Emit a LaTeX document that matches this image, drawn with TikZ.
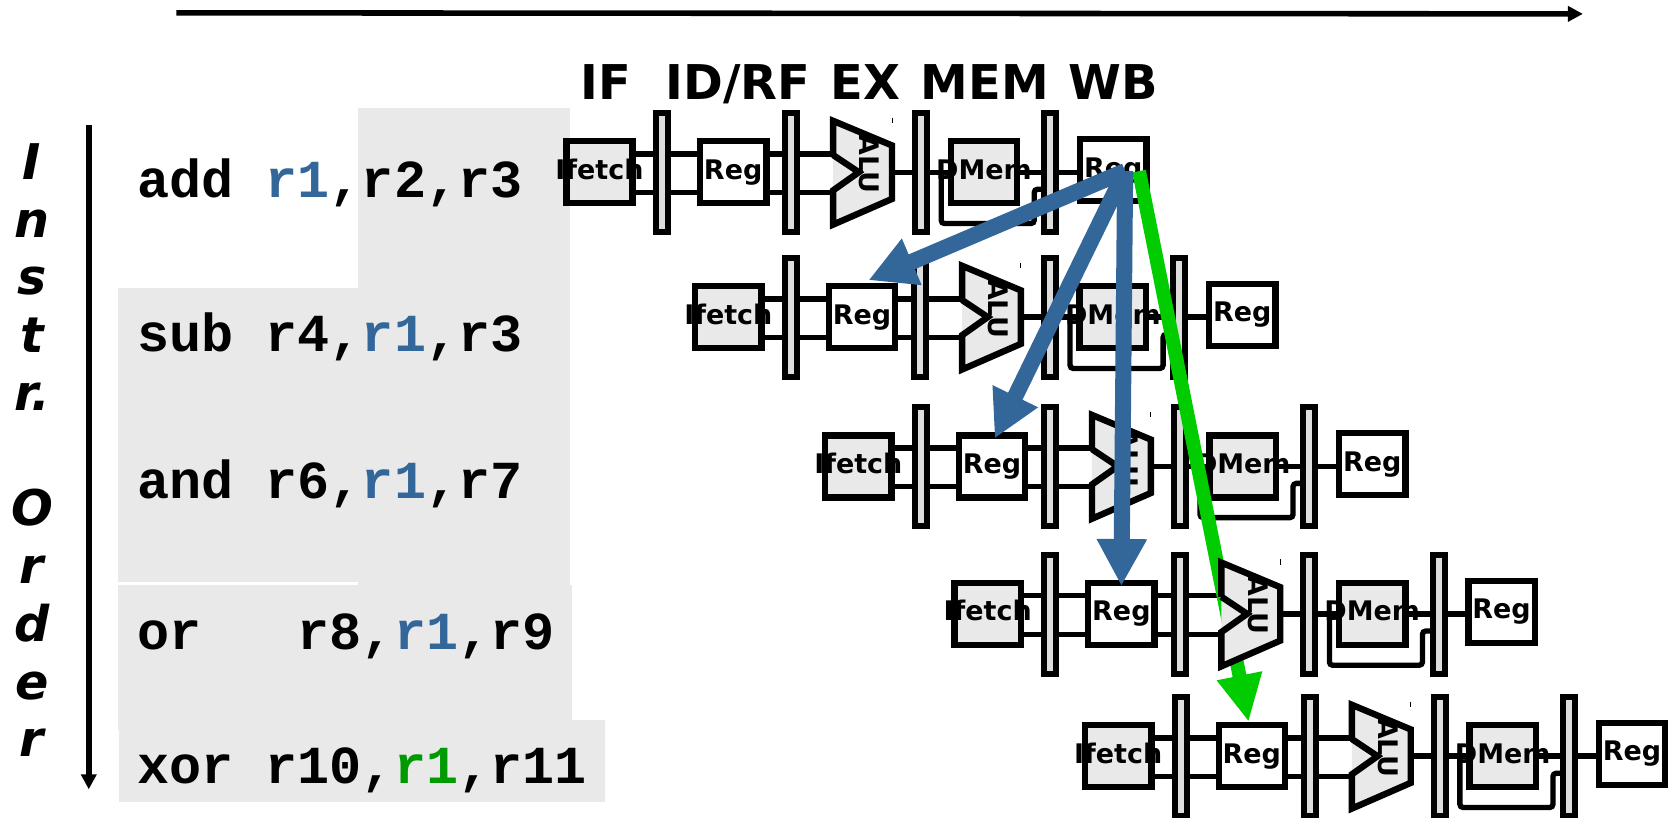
\documentclass[tikz,border=0pt]{standalone}
\usepackage{fontspec}
\usetikzlibrary{arrows.meta,backgrounds}
\newfontfamily\stagefont{DejaVu Sans}
\newfontfamily\codefont{Liberation Mono}
\definecolor{regblue}{HTML}{336699}
\definecolor{fwdgreen}{HTML}{00CC00}
\definecolor{xorgreen}{HTML}{009900}
\definecolor{panelgray}{HTML}{E9E9E9}
\definecolor{latchgray}{HTML}{DDDDDD}
\newcommand{\boxtext}[1]{\makebox[0pt]{#1}}
\newcommand{\regone}[1]{\textcolor{regblue}{#1}}
\newcommand{\pipelinerows}{1/0/0,2/120.5/135.5,3/242/275,4/363/413,5/485/546}
\begin{document}
\begin{tikzpicture}[x=0.5pt,y=-0.5pt,
		unit/.style={draw,line width=3pt,minimum width=31pt,minimum height=29pt,inner sep=0pt,text height=9pt,text depth=2.5pt,font=\stagefont\bfseries\fontsize{12.6}{14}\selectfont},
		graybox/.style={unit,fill=panelgray},
		whitebox/.style={unit,fill=white},
		latch/.style={draw,line width=2.8pt,fill=latchgray,minimum width=5.6pt,minimum height=55.5pt,inner sep=0pt},
		wire/.style={line width=2.5pt},
		alubody/.style={line width=3pt,miter limit=10},
		stage/.style={anchor=base,inner sep=0pt,font=\stagefont\bfseries\fontsize{22.4}{26}\selectfont},
		code/.style={anchor=base west,inner sep=0pt,font=\codefont\bfseries\fontsize{25}{30}\selectfont},
		axis/.style={line width=2.6pt,-{Triangle[length=7pt,width=7pt]}},
		bluearrow/.style={regblue,line width=7.5pt,-{Triangle[length=22pt,width=22pt]}},
		greenarrow/.style={fwdgreen,line width=6.5pt,-{Triangle[length=22pt,width=20pt]}}]
	\useasboundingbox (0,0) rectangle (1568,764);
	\begin{pgfonlayer}{background}
		\fill[panelgray] (335,101) rectangle (533,547);
		\fill[panelgray] (110,269) rectangle (533,544);
		\fill[panelgray] (110,547) rectangle (535,683);
		\fill[panelgray] (111,673) rectangle (566,750);
	\end{pgfonlayer}
	\coordinate (timea) at (165,12);
	\coordinate (timeb) at (1480,13);
	\coordinate (ordera) at (83,117);
	\coordinate (orderb) at (83,738);
	\draw[axis] (timea) -- (timeb);
	\draw[axis] (ordera) -- (orderb);
	\node[stage] (hif) at (566.5,93) {IF};
	\node[stage] (hid) at (690,93) {ID/RF};
	\node[stage] (hex) at (809,93) {EX};
	\node[stage] (hmem) at (921,93) {MEM};
	\node[stage] (hwb) at (1041,93) {WB};
	\node[align=center,inner sep=0pt,font=\stagefont\bfseries\itshape\fontsize{23}{27}\selectfont] (order) at (30,421) {I\\n\\s\\t\\r.\\[27pt]O\\r\\d\\e\\r};
	\node[code] (add) at (128,185) {add \regone{r1},r2,r3};
	\node[code] (sub) at (128,329) {sub r4,\regone{r1},r3};
	\node[code] (and) at (128,466) {and r6,\regone{r1},r7};
	\node[code] (or) at (128,607) {or~~~r8,\regone{r1},r9};
	\node[code] (xor) at (128,733) {xor r10,\textcolor{xorgreen}{r1},r11};
	\foreach \r/\dx/\dy in \pipelinerows {
		\begin{scope}[shift={(\dx,\dy)}]
			\node[graybox] (ifetch\r) at (560.5,161) {\boxtext{Ifetch}};
			\node[latch] (latcha\r) at (619,161.5) {};
			\node[whitebox] (reg\r) at (685.5,161) {\boxtext{Reg}};
			\node[latch] (latchb\r) at (740,161.5) {};
			\node[latch] (latchc\r) at (861,161.5) {};
			\node[graybox] (dmem\r) at (920,161) {\boxtext{DMem}};
			\node[latch] (latchd\r) at (982,161.5) {};
			\node[whitebox] (wb\r) at (1041,159) {\boxtext{Reg}};
			\coordinate (aluin\r) at (779,161);
			\coordinate (aluout\r) at (834,161);
			\coordinate (bypa\r) at (880,161);
			\coordinate (bypb\r) at (974,177);
			\begin{pgfonlayer}{background}
				\draw[wire] ([yshift=8.5pt]ifetch\r.east) -- ([yshift=8.5pt]reg\r.west);
				\draw[wire] ([yshift=-9.5pt]ifetch\r.east) -- ([yshift=-9.5pt]reg\r.west);
				\draw[wire] ([yshift=8.5pt]reg\r.east) -- ([yshift=8.5pt]aluin\r);
				\draw[wire] ([yshift=-9.5pt]reg\r.east) -- ([yshift=-9.5pt]aluin\r);
				\draw[wire] (aluout\r) -- (dmem\r.west);
				\draw[wire] (dmem\r.east) -- (dmem\r.east -| wb\r.west);
				\draw[wire,rounded corners=1.5pt] (bypa\r) |- ++(87,48) |- (bypb\r);
			\end{pgfonlayer}
		\end{scope}
	}
	\coordinate (wbout) at (1052,160);
	\coordinate (wbgreen) at (1065,160);
	\draw[greenarrow] (wbgreen) -- ([xshift=-1.5pt]reg5.north);
	\foreach \r/\dx/\dy in \pipelinerows {
		\begin{scope}[shift={(\dx,\dy)}]
			\fill[panelgray] (779,113) -- (834,136) -- (834,186) -- (779,210) -- cycle;
			\draw[alubody] (779,145) -- (803,161) -- (779,178) -- (779,210) -- (834,186) -- (834,136) -- (779,113) -- (779,145);
			\draw[line width=0.4pt] (834,110) -- (834,115);
			\node[rotate=-90,inner sep=0pt,font=\stagefont\bfseries\fontsize{12.6}{14}\selectfont] (alu\r) at (813,153) {ALU};
		\end{scope}
	}
	\draw[bluearrow] (wbout) -- ([xshift=3pt,yshift=1.25pt]reg2.north);
	\draw[bluearrow] (wbout) -- ([xshift=1.25pt,yshift=-3pt]reg3.north);
	\draw[bluearrow] (wbout) -- ([yshift=-3pt]reg4.north);
\end{tikzpicture}
\end{document}
